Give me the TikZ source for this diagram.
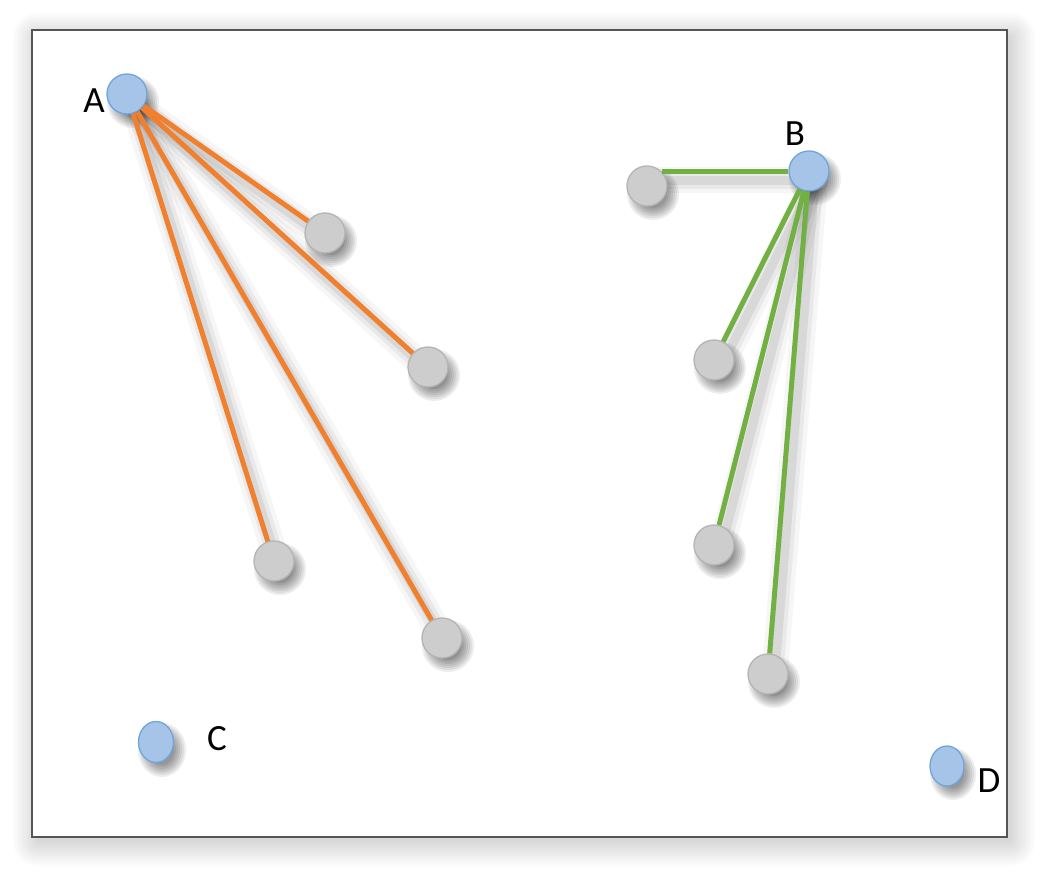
\documentclass[tikz,border=0pt]{standalone}
\usepackage{fontspec}
\setmainfont{Carlito}
\usetikzlibrary{shapes.geometric}
\definecolor{bluefill}{HTML}{A6C4E8}
\definecolor{blueline}{HTML}{6FA5DB}
\definecolor{grayfill}{HTML}{CDCDCD}
\definecolor{grayline}{HTML}{B4B4B4}
\definecolor{orangeedge}{HTML}{F07F2E}
\definecolor{greenedge}{HTML}{72B043}
\definecolor{framecol}{HTML}{555555}
\pgfdeclarelayer{framelayer}
\pgfdeclarelayer{shadowlayer}
\pgfsetlayers{framelayer,shadowlayer,main}
\newcommand\myshade[3]{%
  \foreach \d in {0,2,...,12}{
    \fill[black,opacity=0.07] ([xshift=6pt,yshift=-8pt]#1.center) ellipse ({#2+\d} and {#3+\d});
  }%
}
\begin{document}
\begin{tikzpicture}[x=1pt,y=-1pt,
  bluenode/.style={circle,draw=blueline,line width=1.3pt,fill=bluefill,minimum size=40pt,inner sep=0pt},
  blueoval/.style={ellipse,draw=blueline,line width=1.3pt,fill=bluefill,inner sep=0pt},
  graynode/.style={circle,draw=grayline,line width=1.3pt,fill=grayfill,minimum size=40pt,inner sep=0pt},
  orangeline/.style={draw=orangeedge,line width=5pt},
  greenline/.style={draw=greenedge,line width=5pt},
  lbl/.style={font=\fontsize{37}{42}\selectfont,inner sep=0pt,text=black},
  edgeshade/.style={draw=black,line cap=round,opacity=#1}
]
\useasboundingbox (0,0) rectangle (1042,875);
\begin{pgfonlayer}{framelayer}
\foreach \e in {0,2,...,24}{
  \fill[black,opacity=0.011,rounded corners=\e pt] (37-\e,37-\e) rectangle (1011+\e,842+\e);
}
\draw[framecol,line width=2pt,fill=white] (32,30) rectangle (1007,837);
\end{pgfonlayer}

\node[bluenode] (A) at (127,94) {};
\node[lbl] (la) at (94,101) {A};
\node[graynode] (g1) at (325,233) {};
\node[graynode] (g2) at (428,367) {};
\node[graynode] (g3) at (274,561) {};
\node[graynode] (g4) at (442,638) {};

\node[bluenode] (B) at (809,171) {};
\node[lbl] (lb) at (795,134) {B};
\node[graynode] (g5) at (647,186) {};
\node[graynode] (g6) at (714,360) {};
\node[graynode] (g7) at (714,545) {};
\node[graynode] (g8) at (768,674) {};

\node[blueoval,minimum width=35pt,minimum height=41pt] (C) at (156,742) {};
\node[lbl] (lc) at (217,739) {C};
\node[blueoval,minimum width=34pt,minimum height=40pt] (D) at (947,766) {};
\node[lbl] (ld) at (989,781) {D};

\begin{pgfonlayer}{shadowlayer}
\foreach \s/\t in {A/g1,A/g2,A/g3,A/g4,B/g6,B/g7,B/g8}{
  \foreach \w/\o in {26/0.035,17/0.05,9/0.07}{
    \draw[edgeshade=\o,line width=\w pt] ([xshift=6pt,yshift=-9pt]\s.center) -- ([xshift=6pt,yshift=-9pt]\t.center);
  }
}
\foreach \w/\o in {26/0.035,17/0.05,9/0.07}{
  \draw[edgeshade=\o,line width=\w pt] ([xshift=3pt,yshift=-9pt]B.center) -- ([xshift=3pt,yshift=-9pt]g5.center |- B.center);
}
\myshade{A}{14}{14}
\myshade{B}{14}{14}
\myshade{g1}{14}{14}
\myshade{g2}{14}{14}
\myshade{g3}{14}{14}
\myshade{g4}{14}{14}
\myshade{g5}{14}{14}
\myshade{g6}{14}{14}
\myshade{g7}{14}{14}
\myshade{g8}{14}{14}
\myshade{C}{12}{15}
\myshade{D}{11}{14}
\end{pgfonlayer}

\draw[orangeline] (A) -- (g1);
\draw[orangeline] (A) -- (g2);
\draw[orangeline] (A) -- (g3);
\draw[orangeline] (A) -- (g4);
\draw[greenline] (B) -- (g5.45 |- B);
\draw[greenline] (B) -- (g6);
\draw[greenline] (B) -- (g7);
\draw[greenline] (B) -- (g8);
\end{tikzpicture}
\end{document}
